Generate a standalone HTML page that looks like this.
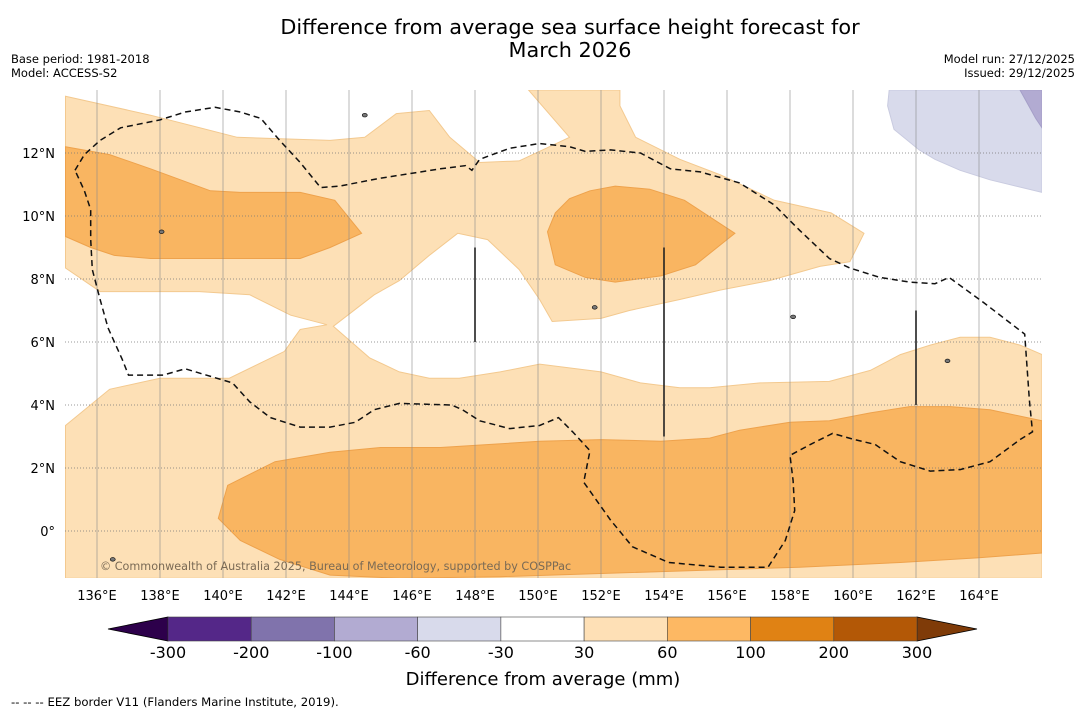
<!DOCTYPE html>
<html><head><meta charset="utf-8">
<style>
html,body{margin:0;padding:0;background:#fff;}
body{width:1085px;height:713px;overflow:hidden;font-family:"DejaVu Sans","Liberation Sans",sans-serif;}
svg text{font-family:"DejaVu Sans","Liberation Sans",sans-serif;}
</style></head>
<body>
<svg id="chart" width="1085" height="713" viewBox="0 0 1085 713" xmlns="http://www.w3.org/2000/svg">
  <text x="570" y="34" font-size="20.8" text-anchor="middle">Difference from average sea surface height forecast for</text>
  <text x="570" y="57" font-size="20.8" text-anchor="middle">March 2026</text>
  <text x="11" y="63" font-size="11.5">Base period: 1981-2018</text>
  <text x="11" y="77" font-size="11.5">Model: ACCESS-S2</text>
  <text x="1075" y="63" font-size="11.5" text-anchor="end">Model run: 27/12/2025</text>
  <text x="1075" y="77" font-size="11.5" text-anchor="end">Issued: 29/12/2025</text>
  <g id="map"></g>
  <g id="axes"></g>
  <g id="cbar"></g>
  <text x="543" y="685" font-size="18" text-anchor="middle">Difference from average (mm)</text>
  <text x="11" y="706" font-size="11.7">--  --  -- EEZ border V11 (Flanders Marine Institute, 2019).</text>
</svg>
<script>
// ---- data (lon, lat) ----
const lonTicks = [136,138,140,142,144,146,148,150,152,154,156,158,160,162,164];
const latTicks = [0,2,4,6,8,10,12];
const lightBand = [[135,13.8],[137.7,13.2],[140.45,12.5],[143.4,12.4],[144.5,12.5],[145.5,13.25],[146.55,13.35],[147.2,12.5],[148.15,11.7],[149.4,11.75],[151.0,12.5],[149.7,14],[152.6,14],[152.6,13.5],[153.1,12.5],[154.5,11.8],[155.8,11.3],[157.5,10.5],[159.3,10.1],[160.35,9.45],[159.9,8.55],[158.95,8.4],[157.35,7.95],[155.8,7.65],[154.5,7.35],[152.9,7.0],[152,6.75],[150.45,6.65],[150.05,7.35],[149.4,8.3],[148.4,9.25],[147.45,9.45],[146.55,8.75],[145.6,7.95],[144.8,7.5],[143.5,6.5],[144.65,5.5],[145.6,5.05],[146.55,4.85],[147.5,4.85],[148.8,5.05],[150.05,5.3],[152,5.05],[153.25,4.7],[154.5,4.55],[155.45,4.55],[157.05,4.7],[159.25,4.75],[160.55,5.1],[161.5,5.6],[162.45,5.9],[163.4,6.15],[164.35,6.15],[165.3,5.9],[166,5.6],[166,-1.5],[135,-1.5],[135,3.35],[136.4,4.5],[138,4.85],[140.2,4.85],[141.95,5.7],[142.45,6.4],[143.3,6.55],[142.15,6.85],[140.85,7.5],[139.25,7.6],[138,7.6],[136.1,7.6],[135,8.35]];
const orangeWest = [[135,12.2],[136.4,11.95],[137.7,11.5],[138.65,11.15],[139.6,10.8],[140.55,10.75],[142.45,10.75],[143.55,10.5],[144.4,9.45],[143.4,9.0],[142.45,8.65],[140.85,8.65],[137.7,8.65],[136.55,8.75],[135.8,9.0],[135,9.35]];
const orangeCentre = [[150.3,9.5],[150.55,10.1],[151,10.55],[151.65,10.8],[152.45,10.95],[153.55,10.85],[154.65,10.5],[156.25,9.45],[155,8.45],[153.9,8.1],[152.45,7.9],[151.5,8.05],[150.55,8.45]];
const orangeSouth = [[139.85,0.4],[140.15,1.45],[141.65,2.2],[143.4,2.5],[145,2.65],[146.9,2.65],[148.5,2.75],[150.05,2.85],[152,2.9],[153.9,2.85],[155.45,2.95],[156.4,3.2],[158,3.45],[159.25,3.5],[160.55,3.75],[161.8,3.95],[163.1,3.95],[164.35,3.85],[166,3.5],[166,-0.7],[164.0,-0.85],[161.5,-1.0],[158.3,-1.15],[155.15,-1.25],[152,-1.35],[148.8,-1.45],[145.6,-1.5],[143.4,-1.4],[141.8,-0.9],[140.55,-0.3]];
const lavender = [[161.15,14],[161.1,13.5],[161.3,12.75],[162.1,12.1],[162.6,11.8],[163.4,11.45],[164.35,11.15],[166,10.75],[166,14]];
const purple = [[165.3,14],[165.8,13.1],[166,12.8],[166,14]];
const eez = [[135.3,11.45],[135.6,11.95],[136.1,12.4],[136.75,12.8],[138,13.05],[138.8,13.3],[139.75,13.45],[140.55,13.3],[141.2,13.1],[141.8,12.4],[142.45,11.7],[143.1,10.9],[143.7,10.95],[145,11.2],[146.9,11.5],[147.7,11.6],[147.9,11.45],[148.15,11.8],[149.1,12.15],[150.05,12.3],[151,12.2],[151.5,12.05],[152.3,12.1],[153.25,12.0],[154.2,11.5],[155.15,11.4],[156.4,11.05],[157.5,10.35],[158.3,9.55],[159.25,8.65],[159.9,8.35],[160.85,8.05],[161.8,7.9],[162.6,7.85],[163.05,8.05],[164.15,7.25],[165.45,6.25],[165.6,4.15],[165.7,3.15],[165.3,2.9],[164.35,2.2],[163.4,1.95],[162.45,1.9],[161.5,2.2],[160.7,2.75],[160.05,2.9],[159.35,3.1],[158.65,2.75],[158,2.4],[158.1,1.6],[158.15,0.65],[157.85,-0.3],[157.3,-1.15],[155.8,-1.15],[154.15,-1.0],[153,-0.5],[152.3,0.35],[151.45,1.55],[151.65,2.55],[151.1,3.15],[150.65,3.6],[150.05,3.35],[149.1,3.25],[148.15,3.5],[147.6,3.85],[147.25,4.0],[145.6,4.05],[144.8,3.85],[144.2,3.45],[143.4,3.3],[142.45,3.3],[141.5,3.6],[140.85,4.1],[140.3,4.7],[138.8,5.15],[138.1,4.95],[137,4.95],[136.8,5.45],[136.35,6.45],[136.1,7.35],[135.85,8.3],[135.8,9.25],[135.8,10.2],[135.6,10.8]];
const segLons = [148,154,162];
const segLatTop = [9,9,7];
const segLatBot = [6,3,4];
const islands = [[136.5,-0.9],[144.5,13.2],[138.05,9.5],[158.1,6.8],[163,5.4],[151.8,7.1]];
const cbLevels = ["-300","-200","-100","-60","-30","30","60","100","200","300"];
const cbColors = ["#542788","#8073ac","#b2abd2","#d8daeb","#ffffff","#fee0b6","#fdb863","#e08214","#b35806"];
const cbExtendLow = "#2d004b", cbExtendHigh = "#7f3b08";

// ---- axes ----
const X0=65.5, PX=31.5, Y0=531;
const xs = lon => X0 + (lon-135)*PX;
const ys = lat => Y0 - lat*PX;
const NS="http://www.w3.org/2000/svg";
function mk(tag, attrs, parent){const e=document.createElementNS(NS,tag);for(const k in attrs)e.setAttribute(k,attrs[k]);parent.appendChild(e);return e;}
const pts = arr => arr.map(p=>xs(p[0]).toFixed(1)+","+ys(p[1]).toFixed(1)).join(" ");
const map=document.getElementById('map'), axes=document.getElementById('axes'), cbar=document.getElementById('cbar');
const clip=mk('clipPath',{id:'clip'},map);
mk('rect',{x:65,y:90,width:977,height:488},clip);
const g=mk('g',{'clip-path':'url(#clip)'},map);
function poly(arr,fill,stroke,name){const p=mk('polygon',{points:pts(arr),fill:fill,stroke:stroke,'stroke-width':1},g);

}
poly(lightBand,'#fde0b6','#f3c98f','contour-30-60');
poly(orangeWest,'#f9b561','#eea24c','contour-60-100-west');
poly(orangeCentre,'#f9b561','#eea24c','contour-60-100-centre');
poly(orangeSouth,'#f9b561','#eea24c','contour-60-100-south');
poly(lavender,'#d8daeb','#c9cbe0','contour-neg-30-60');
poly(purple,'#b2abd2','#a59fc8','contour-neg-60-100');
lonTicks.forEach(l=>{const ln=mk('line',{x1:xs(l),x2:xs(l),y1:90,y2:578,stroke:'#8a8a8a','stroke-width':0.6},g);


const t=mk('text',{x:xs(l),y:600,'font-size':13,'text-anchor':'middle'},axes);t.textContent=l+'°E';

});
latTicks.forEach(l=>{const ln=mk('line',{x1:65,x2:1042,y1:ys(l),y2:ys(l),stroke:'#777','stroke-width':0.8,'stroke-dasharray':'1,2'},g);


const t=mk('text',{x:55,y:ys(l)+5,'font-size':13,'text-anchor':'end'},axes);t.textContent=l===0?'0°':l+'°N';

});
islands.forEach(p=>{const e=mk('ellipse',{cx:xs(p[0]),cy:ys(p[1]),rx:2.5,ry:1.8,fill:'#777',stroke:'#000','stroke-width':0.6},g);

});
const eezLine=mk('polygon',{points:pts(eez),fill:'none',stroke:'#111','stroke-width':1.5,'stroke-dasharray':'6,4'},g);


segLons.forEach((l,i)=>{const s=mk('line',{x1:xs(l),x2:xs(l),y1:ys(segLatTop[i]),y2:ys(segLatBot[i]),stroke:'#222','stroke-width':1.6},g);

});
const wm=mk('text',{x:100,y:570,'font-size':11.2,fill:'#7a6a55'},g);wm.textContent='© Commonwealth of Australia 2025, Bureau of Meteorology, supported by COSPPac';



// ---- colorbar ----
const CB0=168, CB1=917, CBY=617, CBH=24, n=cbColors.length, w=(CB1-CB0)/n;
const lo=mk('polygon',{points:`${CB0},${CBY} ${CB0},${CBY+CBH} 108,${CBY+CBH/2}`,fill:cbExtendLow,stroke:'#000','stroke-width':0.8},cbar);


const hi=mk('polygon',{points:`${CB1},${CBY} ${CB1},${CBY+CBH} 977,${CBY+CBH/2}`,fill:cbExtendHigh,stroke:'#000','stroke-width':0.8},cbar);


cbColors.forEach((c,i)=>{const r=mk('rect',{x:CB0+i*w,y:CBY,width:w,height:CBH,fill:c,stroke:'#444','stroke-width':0.6},cbar);

});
cbLevels.forEach((v,i)=>{const t=mk('text',{x:CB0+i*w,y:658,'font-size':16,'text-anchor':'middle'},cbar);t.textContent=v;

});
</script>
</body></html>
